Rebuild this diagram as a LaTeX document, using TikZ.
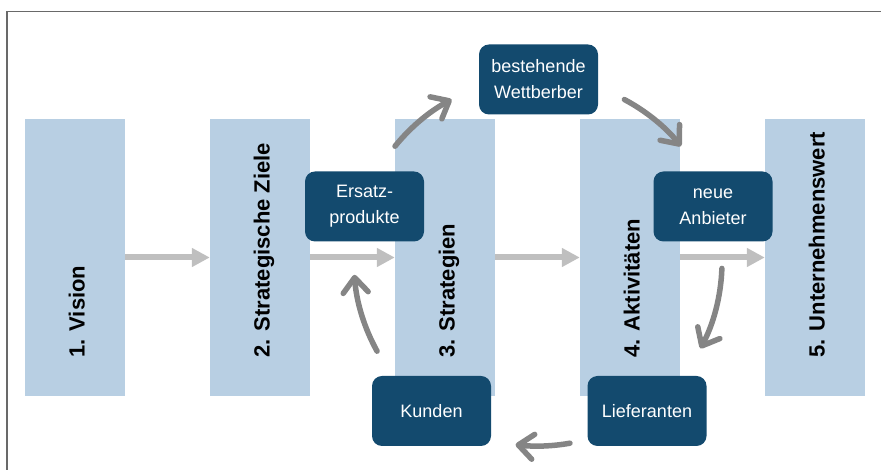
\documentclass[tikz,border=0pt]{standalone}
\usepackage{fontspec}
\setmainfont{Liberation Sans}
\usetikzlibrary{arrows.meta}

\definecolor{stagefill}{RGB}{184,207,227}
\definecolor{forcefill}{RGB}{19,74,110}
\definecolor{flowgray}{RGB}{191,191,191}
\definecolor{cyclegray}{RGB}{133,133,133}
\definecolor{framegray}{RGB}{105,105,105}

\begin{document}
\begin{tikzpicture}[x=1pt,y=1pt,
  stage/.style={fill=stagefill, draw=none, minimum width=100pt,
    minimum height=277pt, inner sep=0pt},
  stagelabel/.style={rotate=90, anchor=base west, inner sep=0pt,
    font=\fontsize{22}{26}\selectfont\bfseries},
  force/.style={fill=forcefill, draw=none, rounded corners=10pt,
    minimum width=119pt, minimum height=70pt, inner sep=0pt,
    text=white, align=center, font=\fontsize{18}{26}\selectfont},
  flow/.style={draw=flowgray, line width=6pt,
    -{Triangle[length=18pt,width=18pt]}},
  cyclearrow/.style={draw=cyclegray, line width=5.5pt, line cap=round,
    -{Straight Barb[length=15pt,width=25pt,round]}},
]
\useasboundingbox (0,0) rectangle (881,470);

% open frame: only the left and top edges show
\draw[framegray, line width=1.6pt] (6.7,0) -- (6.7,458.3) -- (881,458.3);

% the five stages
\node[stage] (s1) at (75,212.5)  {};
\node[stage] (s2) at (260,212.5) {};
\node[stage] (s3) at (445,212.5) {};
\node[stage] (s4) at (630,212.5) {};
\node[stage] (s5) at (815,212.5) {};

\node[stagelabel] (t1) at (84.5,112)  {1. Vision};
\node[stagelabel] (t2) at (269.5,112) {2. Strategische Ziele};
\node[stagelabel] (t3) at (454.5,112) {3. Strategien};
\node[stagelabel] (t4) at (639.5,112) {4. Aktivitäten};
\node[stagelabel] (t5) at (824.5,112) {5. Unternehmenswert};

% flow from stage to stage
\draw[flow] (s1.east) -- (s2.west);
\draw[flow] (s2.east) -- (s3.west);
\draw[flow] (s3.east) -- (s4.west);
\draw[flow] (s4.east) -- (s5.west);

% the five competitive forces
\node[force] (wett) at (538.5,390.5) {bestehende\\Wettberber};
\node[force] (ersatz) at (364.5,263.5) {Ersatz-\\produkte};
\node[force] (neue) at (713,263.5) {neue\\Anbieter};
\node[force] (kunden) at (431.5,59) {Kunden};
\node[force] (liefer) at (647,59) {Lieferanten};

% clockwise cycle between the forces
\coordinate (hub) at (538,208);
\def\rad{184}
\draw[cyclearrow] ([shift={(209:\rad)}]hub) arc[start angle=209, end angle=184, radius=\rad];
\draw[cyclearrow] ([shift={(141:\rad)}]hub) arc[start angle=141, end angle=118, radius=\rad];
\draw[cyclearrow] ([shift={(62:\rad)}]hub)  arc[start angle=62,  end angle=39,  radius=\rad];
\draw[cyclearrow] ([shift={(-2:\rad)}]hub)  arc[start angle=-2,  end angle=-28, radius=\rad];
\draw[cyclearrow] ([shift={(-80:\rad)}]hub) arc[start angle=-80, end angle=-97, radius=\rad];
\end{tikzpicture}
\end{document}
